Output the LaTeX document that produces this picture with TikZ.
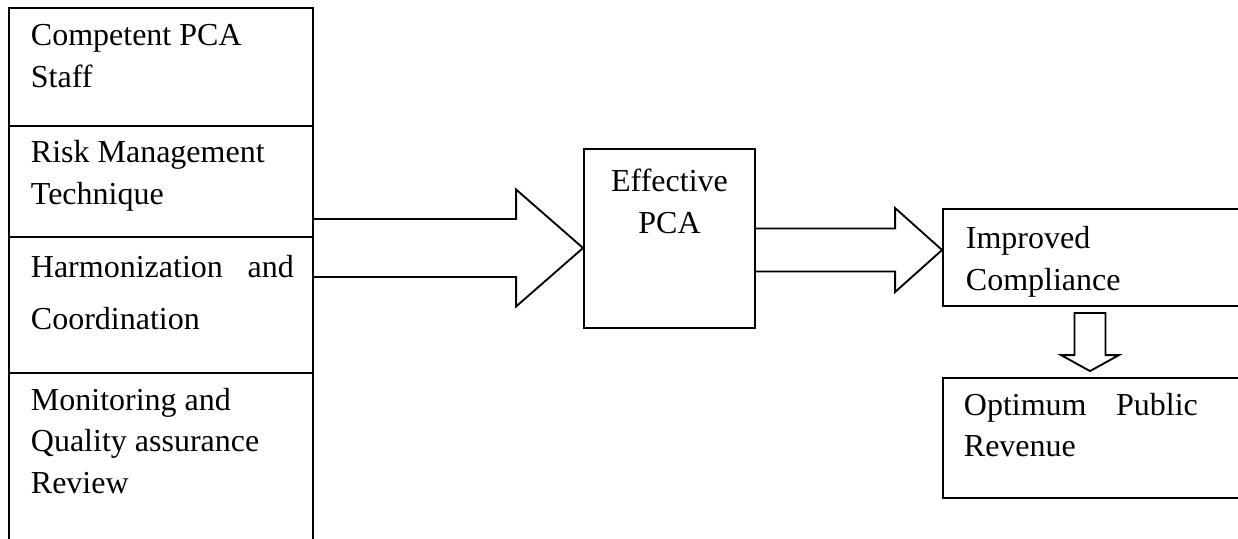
\documentclass[tikz,border=0pt]{standalone}
\usepackage{fontspec}
\setmainfont{Liberation Serif}
\usetikzlibrary{calc,positioning,fit}

\begin{document}
\begin{tikzpicture}[x=0.375pt,y=-0.375pt,line width=0.7pt,
  box/.style={draw,inner sep=0pt,fit={#1}},
  txt/.style={anchor=base west,inner sep=0pt,align=left,font=\fontsize{12}{15.4}\selectfont},
  blk/.style={draw,line join=miter}]
\useasboundingbox (0,0) rectangle (1238,538);
\clip (0,0) rectangle (1238,538);

% left column
\node[box={(9,8) (313,126)}]   (staff)   {};
\node[box={(9,126) (313,237)}] (risk)    {};
\node[box={(9,237) (313,373)}] (harmon)  {};
\node[box={(9,373) (313,580)}] (monitor) {};
\node[txt] (stafftxt)   at (30,87)  {Competent PCA\\Staff};
\node[txt] (risktxt)    at (30,204) {Risk Management\\Technique};
\node[txt,text width=98.6pt] (harmontxt) at (30,277) {Harmonization\hfill and\\[4.1pt]Coordination};
\node[txt] (monitortxt) at (30,493) {Monitoring and\\Quality assurance\\Review};

% middle and right
\node[box={(584,149) (755,328)}]  (eff)      {};
\node[txt,anchor=base,align=center] (efftxt) at (669.5,233) {Effective\\PCA};
\node[box={(943,209) (1270,306)}] (improved) {};
\node[txt] (improvedtxt) at (965,290) {Improved\\Compliance};
\node[box={(943,378) (1270,498)}] (optimum)  {};
\node[txt,text width=87.75pt] (optimumtxt) at (963,415) {Optimum\hfill Public\\Revenue};

% block arrows
\coordinate (tipA) at (eff.west |- 0,248);
\coordinate (startA) at (risk.east |- tipA);
\draw[blk] ($(startA)+(0,-29)$) -- ($(tipA)+(-67,-29)$) -- ($(tipA)+(-67,-58.5)$) -- (tipA)
  -- ($(tipA)+(-67,58.5)$) -- ($(tipA)+(-67,29)$) -- ($(startA)+(0,29)$);

\coordinate (tipB) at (improved.west |- 0,250);
\coordinate (startB) at (eff.east |- tipB);
\draw[blk] ($(startB)+(0,-21.5)$) -- ($(tipB)+(-47,-21.5)$) -- ($(tipB)+(-47,-42)$) -- (tipB)
  -- ($(tipB)+(-47,42)$) -- ($(tipB)+(-47,21.5)$) -- ($(startB)+(0,21.5)$);

\coordinate (startC) at ($(improved.south -| 1090,0)+(0,6)$);
\coordinate (tipC) at ($(optimum.north -| 1090,0)+(0,-6)$);
\draw[blk] ($(startC)+(-15.5,0)$) -- ($(tipC)+(-15.5,-16)$) -- ($(tipC)+(-29,-16)$) -- (tipC)
  -- ($(tipC)+(29,-16)$) -- ($(tipC)+(15.5,-16)$) -- ($(startC)+(15.5,0)$) -- cycle;
\end{tikzpicture}
\end{document}
